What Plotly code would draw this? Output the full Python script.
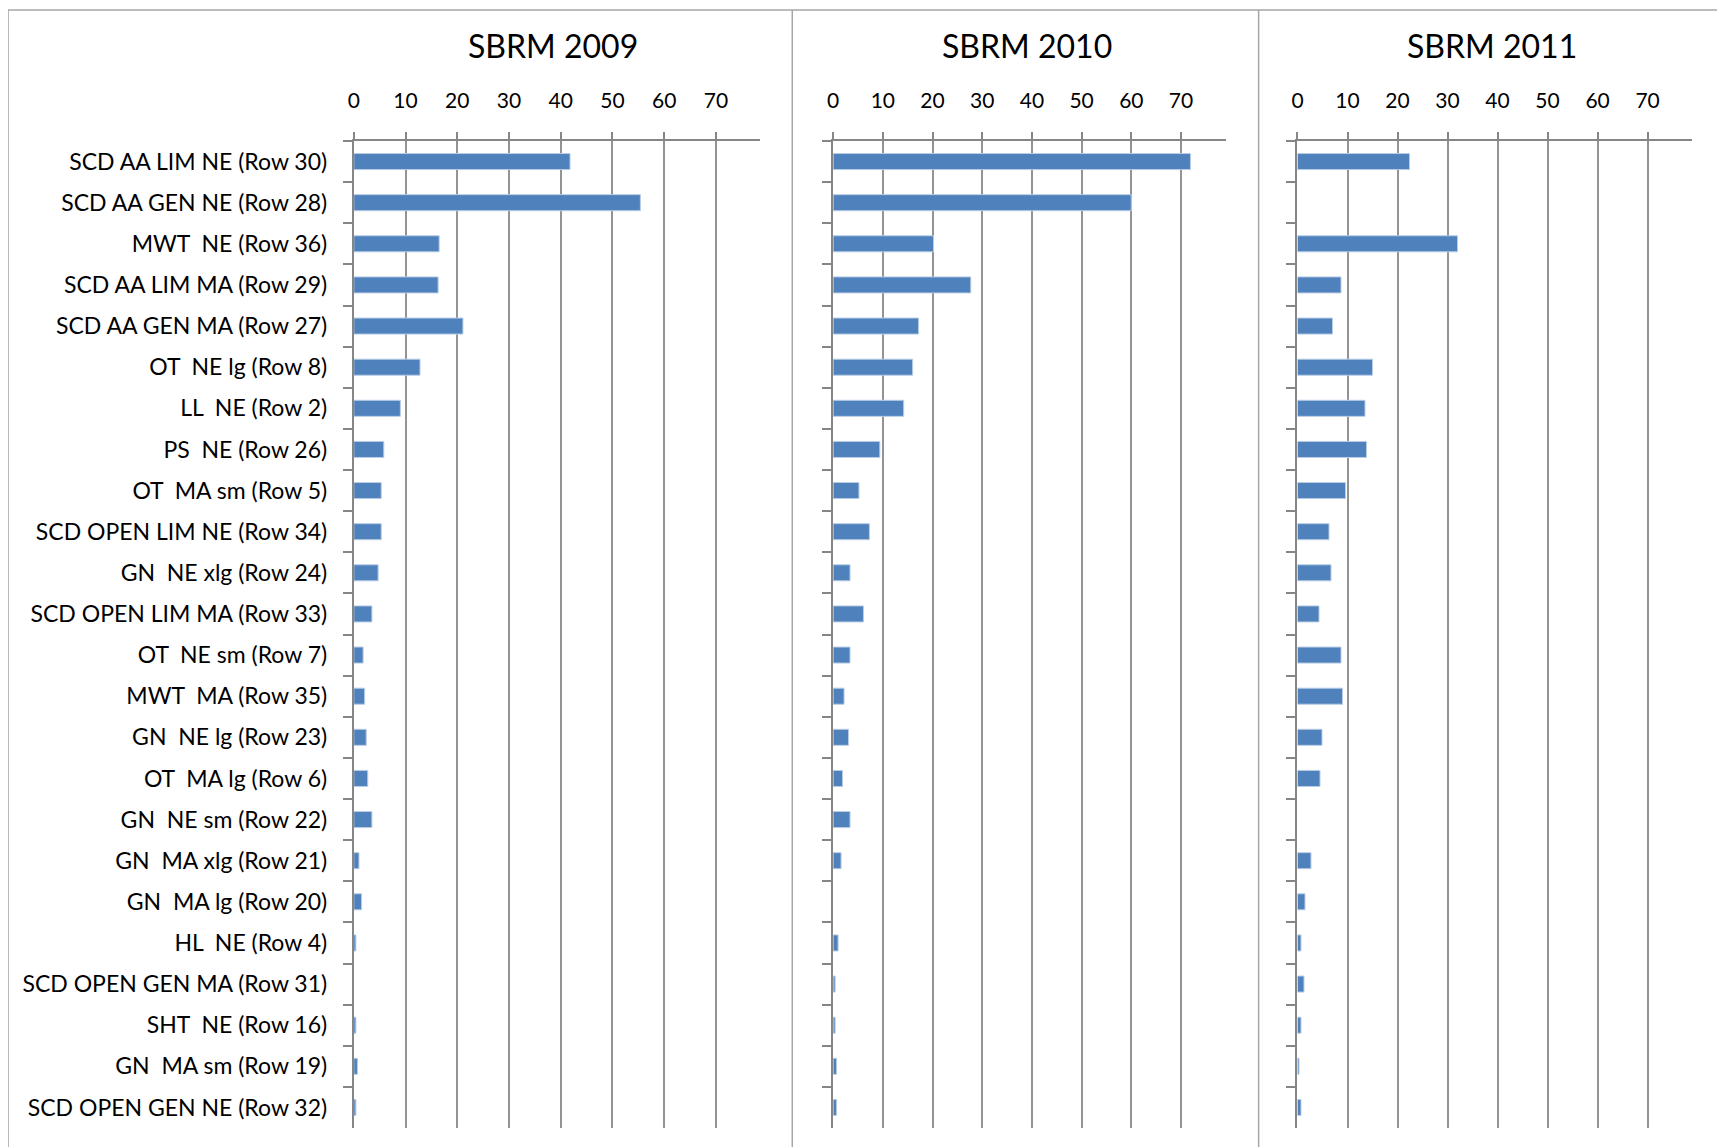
import plotly.graph_objects as go

categories = [
    "SCD AA LIM NE (Row 30)", "SCD AA GEN NE (Row 28)", "MWT  NE (Row 36)",
    "SCD AA LIM MA (Row 29)", "SCD AA GEN MA (Row 27)", "OT  NE lg (Row 8)",
    "LL  NE (Row 2)", "PS  NE (Row 26)", "OT  MA sm (Row 5)",
    "SCD OPEN LIM NE (Row 34)", "GN  NE xlg (Row 24)", "SCD OPEN LIM MA (Row 33)",
    "OT  NE sm (Row 7)", "MWT  MA (Row 35)", "GN  NE lg (Row 23)",
    "OT  MA lg (Row 6)", "GN  NE sm (Row 22)", "GN  MA xlg (Row 21)",
    "GN  MA lg (Row 20)", "HL  NE (Row 4)", "SCD OPEN GEN MA (Row 31)",
    "SHT  NE (Row 16)", "GN  MA sm (Row 19)", "SCD OPEN GEN NE (Row 32)",
]
sbrm_2009 = [41.8, 55.4, 16.5, 16.3, 21.1, 12.8, 9.0, 5.8, 5.3, 5.3, 4.7, 3.5,
             1.8, 2.1, 2.4, 2.7, 3.5, 1.0, 1.5, 0.4, None, 0.4, 0.7, 0.4]
sbrm_2010 = [71.9, 60.0, 20.2, 27.7, 17.2, 16.0, 14.2, 9.4, 5.2, 7.3, 3.4, 6.1,
             3.4, 2.2, 3.1, 1.9, 3.4, 1.6, None, 1.0, 0.4, 0.4, 0.7, 0.7]
sbrm_2011 = [22.4, None, 32.0, 8.7, 7.0, 15.0, 13.5, 13.8, 9.6, 6.3, 6.7, 4.3,
             8.7, 9.0, 4.9, 4.5, None, 2.7, 1.5, 0.7, 1.3, 0.7, 0.3, 0.7]
panel_titles = ["SBRM 2009", "SBRM 2010", "SBRM 2011"]
x_ticks = [0, 10, 20, 30, 40, 50, 60, 70]

# figure offset inside the page
OFF_X, OFF_Y = 11, 6
W, H = 1725 - OFF_X, 1147 - OFF_Y
def px(x):
    return (x - OFF_X) / W
def py(y):
    return 1 - (y - OFF_Y) / H

FONT = "Lato, Open Sans, sans-serif"
AX = "#868686"
GRID = "#939393"
BAR = "#4F81BD"

# (left px, right px, axis max, title center px) in page pixels
panels = [(352, 760, 78.6, 552), (833, 1227, 79.0, 1028), (1299, 1695, 78.9, 1494)]
series = [sbrm_2009, sbrm_2010, sbrm_2011]

fig = go.Figure()
layout = dict(
    width=W, height=H, margin=dict(l=0, r=0, t=0, b=0),
    paper_bgcolor="white", plot_bgcolor="white",
    showlegend=False, bargap=0.61,
    font=dict(family=FONT, color="#000000"),
)
annotations = []
for i, ((l, r, mx, tc), vals, title) in enumerate(zip(panels, series, panel_titles)):
    sfx = "" if i == 0 else str(i + 1)
    fig.add_trace(go.Bar(
        orientation="h", x=vals, y=categories,
        xaxis="x" + sfx, yaxis="y" + sfx,
        marker=dict(color=BAR, line=dict(color="#B9CDE5", width=1)),
    ))
    layout["xaxis" + sfx] = dict(
        domain=[px(l), px(r)], range=[0, mx], side="top",
        anchor="y" + sfx, tickmode="array", tickvals=x_ticks,
        showline=True, linecolor=AX, linewidth=2,
        showgrid=True, gridcolor=GRID, gridwidth=1.5, zeroline=False,
        ticks="outside", ticklen=7, tickcolor=AX, tickwidth=1.5,
        tickfont=dict(family=FONT, size=21, color="#000000"),
        ticklabelstandoff=16, fixedrange=True,
    )
    layout["yaxis" + sfx] = dict(
        domain=[py(1126), py(139)], type="category", autorange="reversed",
        anchor="x" + sfx, showline=True, linecolor=AX, linewidth=2,
        showgrid=False, zeroline=False,
        ticks="outside", tickson="boundaries", ticklen=9, tickcolor=AX, tickwidth=1.5,
        showticklabels=(i == 0),
        tickfont=dict(family=FONT, size=23, color="#000000"),
        ticklabelstandoff=20, fixedrange=True,
    )
    annotations.append(dict(
        text=title, x=px(tc), y=py(43), xref="paper", yref="paper",
        xanchor="center", yanchor="middle", showarrow=False,
        font=dict(family=FONT, size=32, color="#000000"),
    ))

BORDER = "#a6a6a6"
shapes = [
    dict(type="line", xref="paper", yref="paper", x0=px(5), x1=px(5), y0=0, y1=py(8),
         line=dict(color=BORDER, width=1.5)),
    dict(type="line", xref="paper", yref="paper", x0=px(5), x1=1, y0=py(8), y1=py(8),
         line=dict(color=BORDER, width=1.5)),
    dict(type="line", xref="paper", yref="paper", x0=px(792), x1=px(792), y0=0, y1=py(8),
         line=dict(color=BORDER, width=1.5)),
    dict(type="line", xref="paper", yref="paper", x0=px(1260), x1=px(1260), y0=0, y1=py(8),
         line=dict(color=BORDER, width=1.5)),
]
layout["annotations"] = annotations
layout["shapes"] = shapes
fig.update_layout(**layout)
fig.write_html("out.html", config={"displayModeBar": False})
